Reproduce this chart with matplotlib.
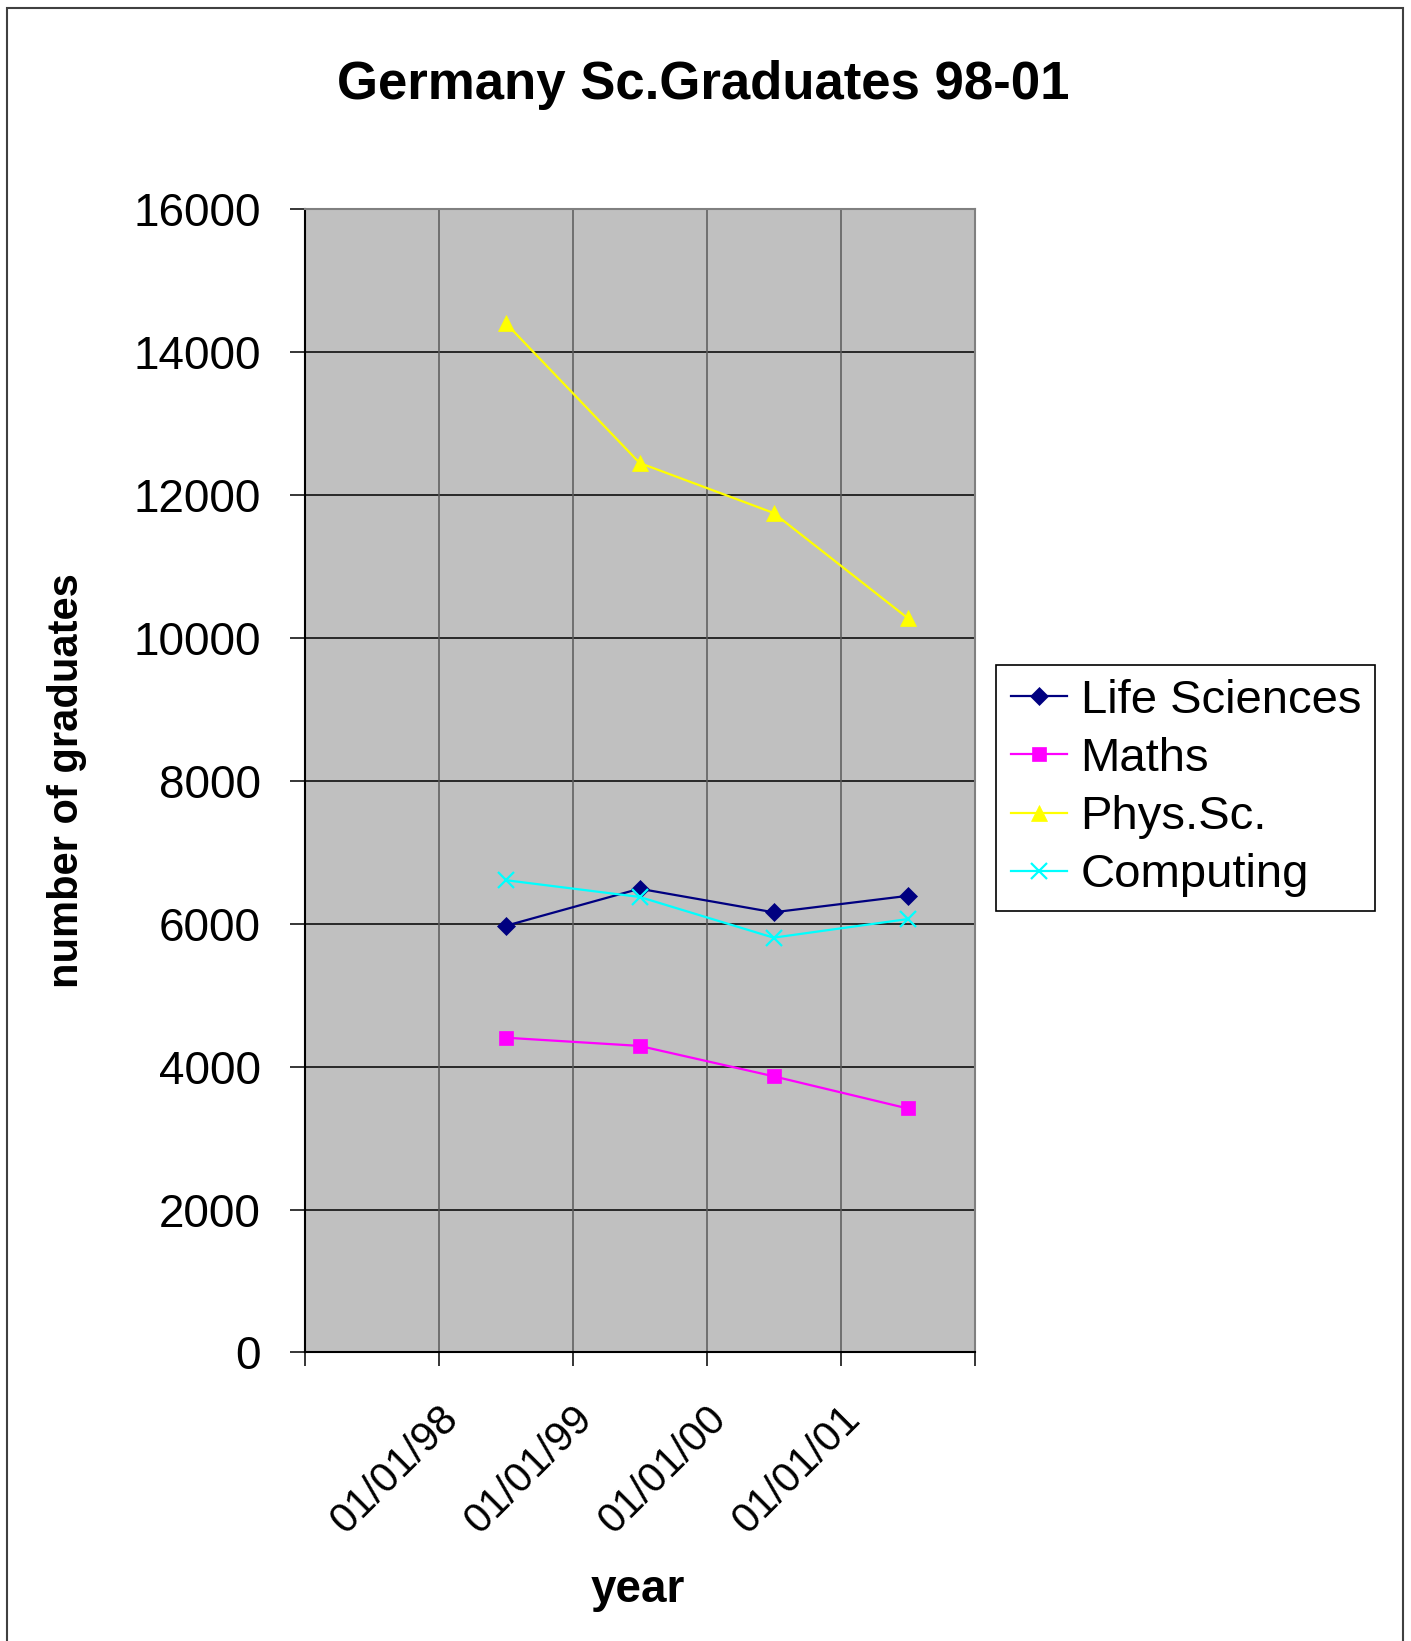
import matplotlib

matplotlib.use("Agg")
import matplotlib.pyplot as plt
import matplotlib.transforms as mtransforms
from matplotlib.patches import Rectangle
import numpy as np

plt.rcParams["font.family"] = ["Liberation Sans", "DejaVu Sans"]

# data
years = ["1998", "1999", "2000", "2001"]
tick_labels = ["01/01/98", "01/01/99", "01/01/00", "01/01/01"]
life_sciences = [5970, 6490, 6160, 6390]
maths = [4405, 4290, 3865, 3415]
phys_sc = [14410, 12450, 11750, 10280]
computing = [6610, 6375, 5805, 6065]

W, H = 1411, 1641
fig = plt.figure(figsize=(W / 100, H / 100), dpi=100)
ax = fig.add_axes([304.6 / W, 1 - 1352.4 / H, 669.9 / W, 1143.1 / H])
ax.set_facecolor("#c0c0c0")

# each year sits in the middle of its date slot
x = np.arange(len(years)) + 1.5

series = [
    ("Life Sciences", life_sciences, "#000080", "D", 9),
    ("Maths", maths, "#ff00ff", "s", 10),
    ("Phys.Sc.", phys_sc, "#ffff00", "^", 11),
    ("Computing", computing, "#00ffff", "x", 12),
]
for name, vals, col, mk, ms in series:
    ax.plot(x, vals, color=col, marker=mk, markersize=ms, linewidth=1.6,
            markeredgewidth=1.6 if mk == "x" else 0.5, markeredgecolor=col,
            label=name, zorder=3)

ax.set_xlim(0, len(years) + 1)
ax.set_ylim(0, 16000)
ax.set_yticks(np.arange(0, 16001, 2000))
ax.set_xticks(np.arange(0, len(years) + 2))
ax.set_xticklabels([""] + tick_labels + [""])

for y in np.arange(2000, 16000, 2000):
    ax.axhline(y, color="black", linewidth=1.1, zorder=1)
for xv in np.arange(1, len(years) + 1):
    ax.axvline(xv, color="#5a5a5a", linewidth=1.1, zorder=1)

for s in ["top", "right"]:
    ax.spines[s].set_color("#808080")
    ax.spines[s].set_linewidth(1.5)
for s in ["left", "bottom"]:
    ax.spines[s].set_color("black")
    ax.spines[s].set_linewidth(1.5)

ax.tick_params(axis="y", direction="out", length=10.5, width=1.1, pad=21, labelsize=33)
ax.tick_params(axis="x", direction="out", length=10, width=1.1, pad=23, labelsize=30)

offset = mtransforms.ScaledTranslation(0.28, 0, fig.dpi_scale_trans)
for lab in ax.get_xticklabels():
    lab.set_rotation(45)
    lab.set_ha("right")
    lab.set_transform(lab.get_transform() + offset)

ax.set_xlabel("year", fontsize=33, fontweight="bold", va="baseline")
ax.xaxis.set_label_coords(0.4977, (1352.4 - 1602) / 1143.1)
ax.set_ylabel("number of graduates", fontsize=30, fontweight="bold")
ax.yaxis.set_label_coords((67 - 304.6) / 669.9, 0.5)
ax.yaxis.label.set_va("center")

fig.text(703 / W, 1 - 99.4 / H, "Germany Sc.Graduates 98-01", fontsize=38,
         fontweight="bold", ha="center", va="baseline")

leg = ax.legend(loc="upper left", bbox_to_anchor=(996.5 / W, 1 - 664.6 / H),
                bbox_transform=fig.transFigure, borderaxespad=0, fontsize=34,
                handlelength=1.2, handletextpad=0.28, labelspacing=0.3,
                borderpad=0.3, fancybox=False, framealpha=1)
leg.get_frame().set_edgecolor("black")
leg.get_frame().set_linewidth(1.2)

# outer chart border (open at the bottom as in the source)
fig.patches.append(Rectangle((7 / W, -0.01), (1403 - 7) / W, 1 - 8 / H + 0.01,
                             transform=fig.transFigure, fill=False,
                             edgecolor="#404040", linewidth=1.5))

fig.savefig("out.png", dpi=100)
